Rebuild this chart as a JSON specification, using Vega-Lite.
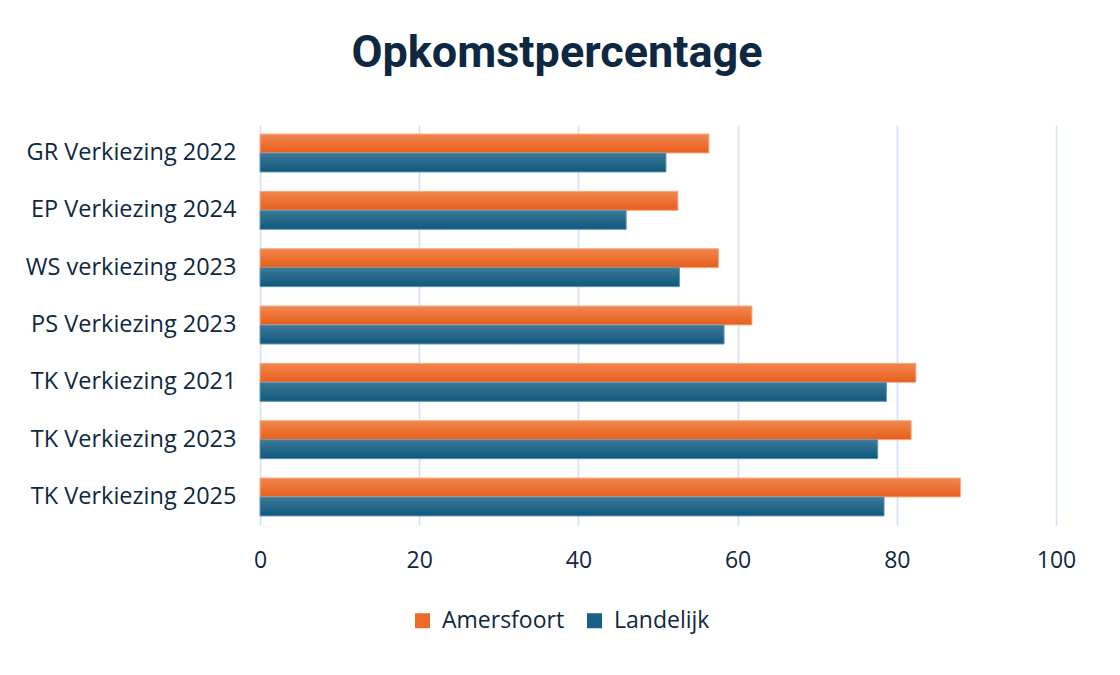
{
  "$schema": "https://vega.github.io/schema/vega-lite/v6.json",
  "autosize": {"type": "none"},
  "width": 796,
  "height": 400,
  "padding": {"left": 260, "top": 125, "right": 64, "bottom": 150},
  "background": "white",
  "title": {
    "text": "Opkomstpercentage",
    "font": "Roboto",
    "fontSize": 45,
    "fontWeight": "bold",
    "color": "#0e2841",
    "anchor": "middle",
    "frame": "group",
    "baseline": "alphabetic",
    "offset": 13,
    "dx": -101
  },
  "data": {
    "values": [
      {"verkiezing": "GR Verkiezing 2022", "reeks": "Amersfoort", "opkomst": 56.4},
      {"verkiezing": "GR Verkiezing 2022", "reeks": "Landelijk", "opkomst": 51.0},
      {"verkiezing": "EP Verkiezing 2024", "reeks": "Amersfoort", "opkomst": 52.5},
      {"verkiezing": "EP Verkiezing 2024", "reeks": "Landelijk", "opkomst": 46.0},
      {"verkiezing": "WS verkiezing 2023", "reeks": "Amersfoort", "opkomst": 57.6},
      {"verkiezing": "WS verkiezing 2023", "reeks": "Landelijk", "opkomst": 52.7},
      {"verkiezing": "PS Verkiezing 2023", "reeks": "Amersfoort", "opkomst": 61.8},
      {"verkiezing": "PS Verkiezing 2023", "reeks": "Landelijk", "opkomst": 58.3},
      {"verkiezing": "TK Verkiezing 2021", "reeks": "Amersfoort", "opkomst": 82.4},
      {"verkiezing": "TK Verkiezing 2021", "reeks": "Landelijk", "opkomst": 78.7},
      {"verkiezing": "TK Verkiezing 2023", "reeks": "Amersfoort", "opkomst": 81.8},
      {"verkiezing": "TK Verkiezing 2023", "reeks": "Landelijk", "opkomst": 77.6},
      {"verkiezing": "TK Verkiezing 2025", "reeks": "Amersfoort", "opkomst": 88.0},
      {"verkiezing": "TK Verkiezing 2025", "reeks": "Landelijk", "opkomst": 78.4}
    ]
  },
  "encoding": {
    "y": {
      "field": "verkiezing",
      "type": "nominal",
      "sort": null,
      "scale": {"paddingInner": 0.337, "paddingOuter": 0.157},
      "axis": {
        "title": null,
        "domain": false,
        "ticks": false,
        "grid": false,
        "labelFont": "Open Sans",
        "labelFontSize": 23.5,
        "labelColor": "#0e2841",
        "labelPadding": 24,
        "labelLimit": 400
      }
    },
    "yOffset": {
      "field": "reeks",
      "type": "nominal",
      "sort": ["Amersfoort", "Landelijk"],
      "scale": {"paddingInner": 0, "paddingOuter": 0}
    },
    "x": {
      "field": "opkomst",
      "type": "quantitative",
      "scale": {"domain": [0, 100], "nice": false},
      "axis": {
        "title": null,
        "values": [0, 20, 40, 60, 80, 100],
        "domain": false,
        "ticks": false,
        "grid": true,
        "gridColor": "#d3e2f6",
        "gridWidth": 1.6,
        "labelFont": "Open Sans",
        "labelFontSize": 23,
        "labelColor": "#0e2841",
        "labelPadding": 24,
        "labelFlush": false
      }
    }
  },
  "layer": [
    {
      "mark": {"type": "bar"},
      "encoding": {
        "color": {
          "field": "reeks",
          "type": "nominal",
          "scale": {"domain": ["Amersfoort", "Landelijk"], "range": ["#ec6a2a", "#1a5f84"]},
          "legend": {
            "title": null,
            "orient": "none",
            "legendX": 151,
            "legendY": 484,
            "direction": "horizontal",
            "symbolType": "square",
            "symbolSize": 225,
            "symbolStrokeWidth": 0,
            "labelFont": "Open Sans",
            "labelFontSize": 23,
            "labelColor": "#0e2841",
            "labelOffset": 8,
            "columnPadding": 18,
            "padding": 0
          }
        }
      }
    },
    {
      "transform": [{"filter": "datum.reeks === 'Amersfoort'"}],
      "mark": {
        "type": "bar",
        "stroke": "#f6b08e",
        "strokeWidth": 1,
        "fill": {
          "gradient": "linear",
          "x1": 0, "y1": 0, "x2": 0, "y2": 1,
          "stops": [
            {"offset": 0, "color": "#f2864f"},
            {"offset": 1, "color": "#e65f1c"}
          ]
        }
      }
    },
    {
      "transform": [{"filter": "datum.reeks === 'Landelijk'"}],
      "mark": {
        "type": "bar",
        "stroke": "#6e9ab3",
        "strokeWidth": 1,
        "fill": {
          "gradient": "linear",
          "x1": 0, "y1": 0, "x2": 0, "y2": 1,
          "stops": [
            {"offset": 0, "color": "#3f7896"},
            {"offset": 1, "color": "#0d587d"}
          ]
        }
      }
    }
  ],
  "config": {
    "view": {"stroke": null}
  }
}
